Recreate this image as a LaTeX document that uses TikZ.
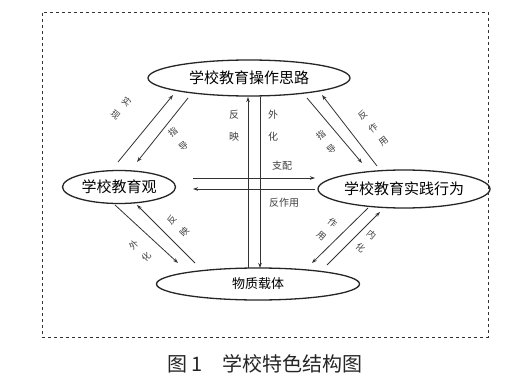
\documentclass[tikz,border=0pt]{standalone}
\usepackage{fontspec}
\setmainfont{Noto Sans CJK SC}
\usetikzlibrary{shapes.geometric,arrows.meta}
\begin{document}
\begin{tikzpicture}[x=1pt,y=-1pt,
  ell/.style={draw=black!85,line width=1.3pt,ellipse,inner sep=0pt},
  conn/.style={draw=black!80,line width=0.8pt,-{Stealth[length=5pt,width=3.5pt]}},
  lab/.style={font=\fontsize{10}{11}\selectfont,text=black!75,align=center,inner sep=0pt},
  stk/.style={lab,font=\fontsize{9}{17}\selectfont},
  vstk/.style={lab,font=\fontsize{10}{22}\selectfont}]
\useasboundingbox (0,0) rectangle (506,377);
\fill[white] (0,0) rectangle (506,377);
\node[draw=black!80,dashed,line width=0.9pt,minimum width=446pt,minimum height=325pt,inner sep=0pt] (frame) at (265,174.5) {};

\node[ell,minimum width=202pt,minimum height=36pt,font=\fontsize{15}{15}\selectfont] (top) at (249,78) {学校教育操作思路};
\node[ell,minimum width=113pt,minimum height=33pt,font=\fontsize{15}{15}\selectfont] (left) at (119,187) {学校教育观};
\node[ell,minimum width=172pt,minimum height=38pt,font=\fontsize{15}{15}\selectfont] (right) at (404,189) {学校教育实践行为};
\node[ell,minimum width=203pt,minimum height=32pt,font=\fontsize{13}{13}\selectfont] (bot) at (258,284) {物质载体};

% endpoints
\coordinate (tl1) at (118,162); \coordinate (tl2) at (173,95);
\coordinate (tl3) at (188,98);  \coordinate (tl4) at (137,162);
\coordinate (tr1) at (307,98);  \coordinate (tr2) at (362,163);
\coordinate (tr3) at (377,166); \coordinate (tr4) at (322,95);
\coordinate (bl1) at (115,205); \coordinate (bl2) at (178,263);
\coordinate (bl3) at (195,263); \coordinate (bl4) at (137,205);
\coordinate (br1) at (368,208); \coordinate (br2) at (312,263);
\coordinate (br3) at (327,265); \coordinate (br4) at (380,212);
\coordinate (vu1) at (248,268); \coordinate (vu2) at (248,97);
\coordinate (vd1) at (260,97);  \coordinate (vd2) at (260,268);
\coordinate (h1) at (193,178);  \coordinate (h2) at (315,178);
\coordinate (h3) at (315,189);  \coordinate (h4) at (193,189);

\draw[conn] (tl1) -- (tl2);
\draw[conn] (tl3) -- (tl4);
\draw[conn] (tr1) -- (tr2);
\draw[conn] (tr3) -- (tr4);
\draw[conn] (bl1) -- (bl2);
\draw[conn] (bl3) -- (bl4);
\draw[conn] (br1) -- (br2);
\draw[conn] (br3) -- (br4);
\draw[conn] (vu1) -- (vu2);
\draw[conn] (vd1) -- (vd2);
\draw[conn] (h1) -- (h2);
\draw[conn] (h3) -- (h4);

% labels
\node[stk,rotate=-40] (ltl1) at (121,108) {实\\现};
\node[stk,rotate=38] (ltl2) at (178,139) {指\\导};
\node[stk,rotate=38] (ltr1) at (326,142) {指\\导};
\node[stk,rotate=38] (ltr2) at (373,128) {反\\作\\用};
\node[stk,rotate=47] (lbl1) at (178,226) {反\\映};
\node[stk,rotate=47] (lbl2) at (140,251) {外\\化};
\node[stk,rotate=-40] (lbr1) at (327,229) {作\\用};
\node[stk,rotate=-40] (lbr2) at (366,241) {内\\化};
\node[vstk] (lv1) at (234,126) {反\\映};
\node[vstk] (lv2) at (273,126) {外\\化};
\node[lab] (lh1) at (282,166) {支配};
\node[lab] (lh2) at (284,203) {反作用};

\node[font=\fontsize{20}{20}\selectfont,text=black!85] (cap) at (265,364) {图 1\hspace{1em}学校特色结构图};
\end{tikzpicture}
\end{document}
